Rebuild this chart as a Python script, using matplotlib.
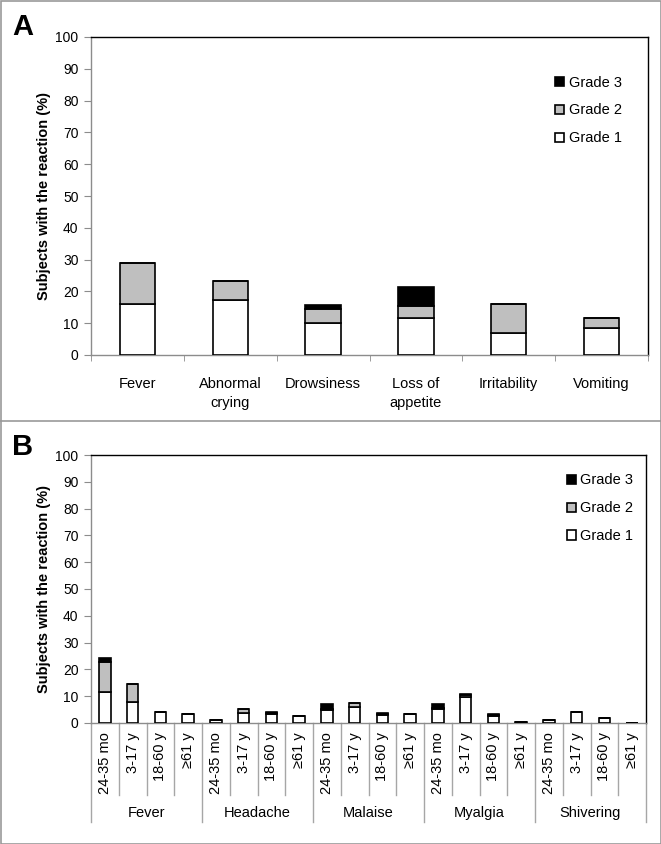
import numpy as np
import matplotlib
matplotlib.use('Agg')
from matplotlib import pyplot as plt
from matplotlib.lines import Line2D
from matplotlib.patches import Rectangle

plt.rcParams['font.family'] = ['Liberation Sans', 'DejaVu Sans']

# panel A data
cats_a = ['Fever', 'Abnormal\ncrying', 'Drowsiness', 'Loss of\nappetite', 'Irritability', 'Vomiting']
a_grade1 = [16.0, 17.2, 10.0, 11.5, 7.0, 8.5]
a_grade2 = [13.0, 6.1, 4.4, 4.0, 9.0, 3.0]
a_grade3 = [0.0, 0.0, 1.4, 6.0, 0.0, 0.0]

# panel B data
groups_b = ['Fever', 'Headache', 'Malaise', 'Myalgia', 'Shivering']
ages_b = ['24-35 mo', '3-17 y', '18-60 y', '\u226561 y']
b_grade1 = [11.4, 7.8, 4.0, 3.2, 1.1, 3.8, 3.3, 2.7, 5.0, 5.8, 3.0, 3.3,
            5.2, 9.8, 2.6, 0.5, 1.2, 4.1, 2.0, 0.0]
b_grade2 = [11.4, 6.9, 0.0, 0.0, 0.0, 1.4, 0.4, 0.0, 0.3, 1.5, 0.4, 0.0,
            0.4, 0.5, 0.5, 0.0, 0.0, 0.0, 0.0, 0.0]
b_grade3 = [1.6, 0.0, 0.0, 0.0, 0.0, 0.0, 0.3, 0.0, 1.8, 0.0, 0.4, 0.0,
            1.5, 0.4, 0.4, 0.0, 0.0, 0.0, 0.0, 0.0]

W, H = 661, 844
fig = plt.figure(figsize=(W / 100, H / 100), dpi=100)

grey = '#8c8c8c'
c2 = '#bfbfbf'
fs = 10.5


def stacked(ax, g1, g2, g3, width):
    x = np.arange(len(g1))
    g1 = np.array(g1); g2 = np.array(g2); g3 = np.array(g3)
    ax.bar(x, g1, width, color='white', edgecolor='black', lw=1.2, label='Grade 1', zorder=3)
    ax.bar(x, g2, width, bottom=g1, color=c2, edgecolor='black', lw=1.2, label='Grade 2', zorder=3)
    ax.bar(x, g3, width, bottom=g1 + g2, color='black', edgecolor='black', lw=1.2, label='Grade 3', zorder=3)
    return x


def style(ax, leg_anchor):
    ax.set_ylim(0, 100)
    ax.set_yticks(np.arange(0, 101, 10))
    ax.tick_params(axis='y', direction='out', length=5, color=grey, labelsize=10, pad=4)
    ax.spines['top'].set_color('black')
    ax.spines['right'].set_color('black')
    ax.spines['left'].set_color(grey)
    ax.spines['bottom'].set_color(grey)
    for s in ax.spines.values():
        s.set_linewidth(1)
    ax.set_ylabel('Subjects with the reaction (%)', fontsize=fs, fontweight='bold', labelpad=3)
    h, l = ax.get_legend_handles_labels()
    ax.legend(h[::-1], l[::-1], loc='upper right', bbox_to_anchor=leg_anchor,
              frameon=False, fontsize=fs, handlelength=0.6, handleheight=0.6,
              handletextpad=0.3, labelspacing=0.95)


# ---- panel A ----
axA = fig.add_axes([91 / W, 1 - 355 / H, 557 / W, 318 / H])
x = stacked(axA, a_grade1, a_grade2, a_grade3, 0.38)
axA.set_xlim(-0.5, len(cats_a) - 0.5)
axA.set_xticks(x)
axA.set_xticklabels(cats_a, fontsize=fs, linespacing=1.45)
axA.tick_params(axis='x', length=0, pad=16)
axA.set_xticks(np.arange(-0.5, len(cats_a), 1), minor=True)
axA.tick_params(axis='x', which='minor', length=4, color=grey)
style(axA, (0.976, 0.92))
fig.text(12 / W, 1 - 27 / H, 'A', fontsize=21, fontweight='bold', va='center')

# ---- panel B ----
axB = fig.add_axes([91 / W, 1 - 723 / H, 555 / W, 268 / H])
n = len(b_grade1)
x = stacked(axB, b_grade1, b_grade2, b_grade3, 0.42)
axB.set_xlim(-0.5, n - 0.5)
axB.set_xticks([])
style(axB, (1.0, 0.98))
tr = axB.get_xaxis_transform()
hB = 268.0
for i in range(n + 1):
    xb = i - 0.5
    yend = -(822 - 723) / hB if i % 4 == 0 else -(795 - 723) / hB
    axB.add_line(Line2D([xb, xb], [0, yend], transform=tr, color='#a6a6a6', lw=1, clip_on=False))
for i in range(n):
    axB.text(i, -(732 - 723) / hB, ages_b[i % 4], transform=tr, rotation=90,
             ha='center', va='top', fontsize=fs)
for j, g in enumerate(groups_b):
    axB.text(j * 4 + 1.5, -(813 - 723) / hB, g, transform=tr, ha='center', va='center', fontsize=fs)
fig.text(12 / W, 1 - 447 / H, 'B', fontsize=21, fontweight='bold', va='center')

# outer frames
fig.add_artist(Rectangle((0.5 / W, 0.5 / H), 1 - 1 / W, 1 - 1 / H, transform=fig.transFigure,
                         fill=False, edgecolor='#999999', lw=1.2))
fig.add_artist(Line2D([0, 1], [1 - 421 / H, 1 - 421 / H], transform=fig.transFigure,
                      color='#999999', lw=1.2))

fig.savefig('out.png', dpi=100)
